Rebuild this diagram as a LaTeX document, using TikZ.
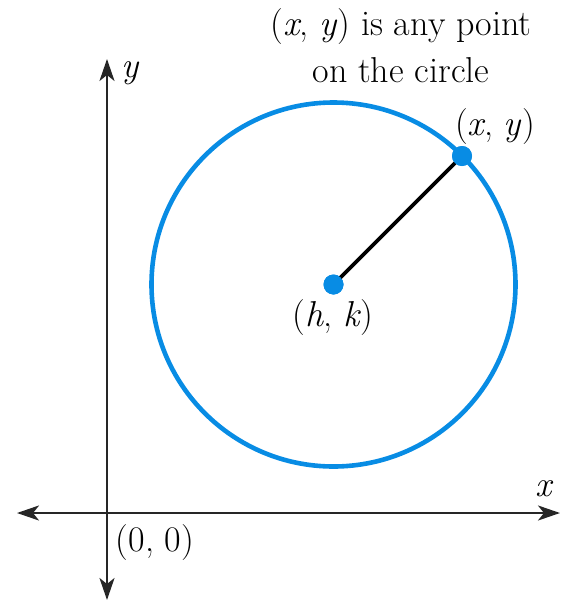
\documentclass[tikz,border=0pt]{standalone}
\usetikzlibrary{arrows.meta}
\definecolor{circblue}{RGB}{8,140,228}
\begin{document}
\begin{tikzpicture}[x=1pt,y=-1pt,
  axis/.style={line width=2.5pt,black!85,{Stealth[length=22pt,width=15pt,inset=6pt]}-{Stealth[length=22pt,width=15pt,inset=6pt]}},
  lbl/.style={font=\fontsize{36}{47}\selectfont,inner sep=0pt},
  dot/.style={circle,fill=circblue,minimum size=20pt,inner sep=0pt}]
\useasboundingbox (0,0) rectangle (565,600);
% axes
\coordinate (xl) at (17,513);
\coordinate (xr) at (560,513);
\coordinate (yt) at (107,59);
\coordinate (yb) at (107,600);
\draw[axis] (xl) -- (xr);
\draw[axis] (yb) -- (yt);
% circle
\coordinate (C) at (333.5,284.5);
\draw[circblue,line width=4.6pt] (C) circle[radius=182pt];
\node[dot] (hk) at (C) {};
\node[dot] (xy) at (462,156) {};
\draw[line width=3.8pt] (hk.center) -- (xy.center);
\node[dot] at (hk.center) {};
\node[dot] at (xy.center) {};
% labels
\node[lbl] (hklbl) at (333,318) {(\textit{h}, \textit{k})};
\node[lbl] (xylbl) at (495,127) {(\textit{x}, \textit{y})};
\node[lbl,align=center] (title) at (401,46) {(\textit{x}, \textit{y}) is any point\\on the circle};
\node[lbl] (origin) at (155,543) {(0, 0)};
\node[lbl] (xlab) at (545,489) {\textit{x}};
\node[lbl] (ylab) at (131,73) {\textit{y}};
\end{tikzpicture}
\end{document}
